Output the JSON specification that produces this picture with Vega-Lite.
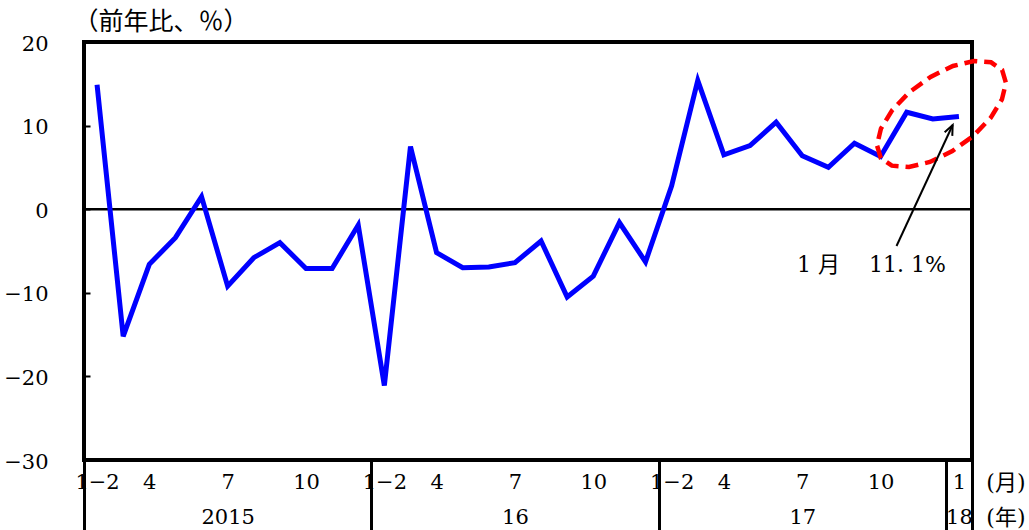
{
  "$schema": "https://vega.github.io/schema/vega-lite/v6.json",
  "width": 888,
  "height": 418,
  "autosize": {"type": "none"},
  "padding": {"left": 84, "top": 42, "right": 57, "bottom": 70},
  "background": "white",
  "config": {
    "view": {"stroke": "black", "strokeWidth": 4},
    "axis": {"labelFont": "DejaVu Serif, Noto Sans CJK JP", "labelFontSize": 21, "labelColor": "black", "grid": false, "domain": false},
    "text": {"font": "DejaVu Serif, Noto Sans CJK JP", "fontWeight": "normal", "fontSize": 21, "color": "black"}
  },
  "datasets": {
    "exports": [
      {"year": 2015, "month": "1-2", "idx": 0, "value": 14.9},
      {"year": 2015, "month": "3", "idx": 1, "value": -15.2},
      {"year": 2015, "month": "4", "idx": 2, "value": -6.6},
      {"year": 2015, "month": "5", "idx": 3, "value": -3.4},
      {"year": 2015, "month": "6", "idx": 4, "value": 1.5},
      {"year": 2015, "month": "7", "idx": 5, "value": -9.2},
      {"year": 2015, "month": "8", "idx": 6, "value": -5.8},
      {"year": 2015, "month": "9", "idx": 7, "value": -4.0},
      {"year": 2015, "month": "10", "idx": 8, "value": -7.1},
      {"year": 2015, "month": "11", "idx": 9, "value": -7.1},
      {"year": 2015, "month": "12", "idx": 10, "value": -1.9},
      {"year": 2016, "month": "1-2", "idx": 11, "value": -21.1},
      {"year": 2016, "month": "3", "idx": 12, "value": 7.5},
      {"year": 2016, "month": "4", "idx": 13, "value": -5.2},
      {"year": 2016, "month": "5", "idx": 14, "value": -7.0},
      {"year": 2016, "month": "6", "idx": 15, "value": -6.9},
      {"year": 2016, "month": "7", "idx": 16, "value": -6.4},
      {"year": 2016, "month": "8", "idx": 17, "value": -3.8},
      {"year": 2016, "month": "9", "idx": 18, "value": -10.5},
      {"year": 2016, "month": "10", "idx": 19, "value": -8.0},
      {"year": 2016, "month": "11", "idx": 20, "value": -1.6},
      {"year": 2016, "month": "12", "idx": 21, "value": -6.3},
      {"year": 2017, "month": "1-2", "idx": 22, "value": 2.8},
      {"year": 2017, "month": "3", "idx": 23, "value": 15.4},
      {"year": 2017, "month": "4", "idx": 24, "value": 6.5},
      {"year": 2017, "month": "5", "idx": 25, "value": 7.6},
      {"year": 2017, "month": "6", "idx": 26, "value": 10.4},
      {"year": 2017, "month": "7", "idx": 27, "value": 6.4},
      {"year": 2017, "month": "8", "idx": 28, "value": 5.0},
      {"year": 2017, "month": "9", "idx": 29, "value": 7.9},
      {"year": 2017, "month": "10", "idx": 30, "value": 6.3},
      {"year": 2017, "month": "11", "idx": 31, "value": 11.6},
      {"year": 2017, "month": "12", "idx": 32, "value": 10.8},
      {"year": 2018, "month": "1", "idx": 33, "value": 11.1}
    ],
    "one": [{"note": "1月 11.1%"}]
  },
  "layer": [
    {
      "data": {"name": "one"},
      "mark": {"type": "rule", "opacity": 0},
      "encoding": {
        "x": {"datum": -0.5, "type": "quantitative", "scale": {"domain": [-0.5, 33.5], "nice": false, "zero": false},
          "axis": {"orient": "bottom", "values": [-0.5, 10.5, 21.5, 32.5, 33.5], "labels": false, "ticks": true, "tickSize": 70, "tickWidth": 3, "tickColor": "black", "title": null}}
      }
    },
    {
      "data": {"name": "one"},
      "mark": {"type": "rule", "color": "black", "strokeWidth": 2.5},
      "encoding": {"y": {"datum": 0, "type": "quantitative"}}
    },
    {
      "data": {"name": "exports"},
      "mark": {"type": "line", "color": "#0000FF", "strokeWidth": 5, "strokeJoin": "miter"},
      "encoding": {
        "x": {"field": "idx", "type": "quantitative",
          "axis": {"orient": "bottom", "values": [0, 2, 5, 8, 11, 13, 16, 19, 22, 24, 27, 30, 33],
            "labelExpr": "datum.value == 33 ? '1' : (datum.value % 11 == 0 ? '1−2' : '' + (datum.value % 11 + 2))",
            "ticks": false, "labelPadding": 11, "labelFlush": false, "labelOverlap": false, "title": null}},
        "y": {"field": "value", "type": "quantitative",
          "scale": {"domain": [-30, 20], "nice": false, "zero": false},
          "axis": {"values": [-30, -20, -10, 0, 10, 20], "ticks": true, "tickSize": -6, "tickWidth": 2, "tickColor": "black", "labelPadding": 42, "labelOffset": 2,
            "title": "（前年比、％）", "titleAngle": 0, "titleX": -11, "titleY": -21, "titleAlign": "left", "titleBaseline": "middle",
            "titleFont": "Noto Sans CJK JP", "titleFontSize": 25, "titleFontWeight": "normal", "titleColor": "black"}}
      }
    },
    {
      "data": {"name": "one"},
      "mark": {"type": "point", "filled": false, "stroke": "#FF0000", "strokeWidth": 4.5, "strokeDash": [13, 7], "opacity": 1,
        "shape": "M0.758,-0.551L0.806,-0.390L0.756,-0.182L0.615,0.048L0.400,0.273L0.136,0.464L-0.144,0.600L-0.406,0.663L-0.620,0.646L-0.758,0.551L-0.806,0.390L-0.756,0.182L-0.615,-0.048L-0.400,-0.273L-0.136,-0.464L0.144,-0.600L0.406,-0.663L0.620,-0.646Z",
        "size": 25600},
      "encoding": {
        "x": {"datum": 32.33, "type": "quantitative",
          "axis": {"orient": "bottom", "values": [5, 16, 27, 33],
            "labelExpr": "datum.value == 5 ? '2015' : datum.value == 16 ? '16' : datum.value == 27 ? '17' : '18'",
            "ticks": false, "labelPadding": 46, "labelFlush": false, "labelOverlap": false, "title": null}},
        "y": {"datum": 11.39, "type": "quantitative"}
      }
    },
    {
      "data": {"name": "one"},
      "mark": {"type": "rule", "color": "black", "strokeWidth": 2},
      "encoding": {
        "x": {"datum": 30.61, "type": "quantitative", "axis": null},
        "y": {"datum": -4.4, "type": "quantitative"},
        "x2": {"datum": 32.76},
        "y2": {"datum": 10.07}
      }
    },
    {
      "data": {"name": "one"},
      "mark": {"type": "point", "filled": false, "stroke": "black", "strokeWidth": 2, "opacity": 1,
        "shape": "M-0.42,1L0,0L0.42,1", "size": 400, "angle": 24.8},
      "encoding": {
        "x": {"datum": 32.76, "type": "quantitative", "axis": null},
        "y": {"datum": 10.07, "type": "quantitative"}
      }
    },
    {
      "data": {"name": "one"},
      "mark": {"type": "text", "align": "left", "baseline": "middle", "fontSize": 22},
      "encoding": {
        "text": {"datum": "1 月\u3000 11. 1%"},
        "x": {"datum": 26.8, "type": "quantitative", "axis": null},
        "y": {"datum": -6.7, "type": "quantitative"}
      }
    },
    {
      "data": {"name": "one"},
      "mark": {"type": "text", "align": "center", "baseline": "middle", "fontSize": 22},
      "encoding": {
        "text": {"datum": "(月)"},
        "x": {"datum": 34.8, "type": "quantitative", "axis": null},
        "y": {"datum": -32.7, "type": "quantitative"}
      }
    },
    {
      "data": {"name": "one"},
      "mark": {"type": "text", "align": "center", "baseline": "middle", "fontSize": 22},
      "encoding": {
        "text": {"datum": "(年)"},
        "x": {"datum": 34.8, "type": "quantitative", "axis": null},
        "y": {"datum": -36.9, "type": "quantitative"}
      }
    }
  ],
  "resolve": {"axis": {"x": "independent"}}
}
